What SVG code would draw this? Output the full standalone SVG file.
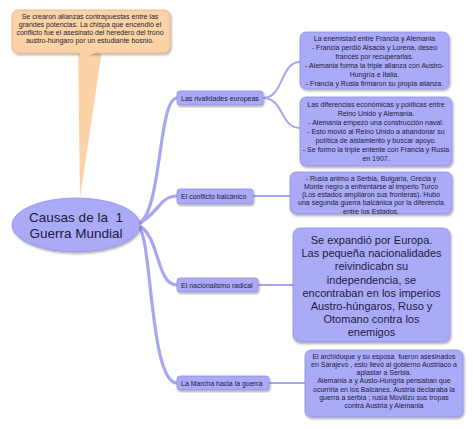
<svg xmlns="http://www.w3.org/2000/svg" width="474" height="429" viewBox="0 0 474 429">
<defs>
<filter id="sh" x="-10%" y="-10%" width="125%" height="130%">
<feDropShadow dx="1" dy="1.5" stdDeviation="1" flood-color="#000" flood-opacity="0.35"/>
</filter>
<style>
.node{fill:#AAAAF7;stroke:#9090E6;stroke-width:0.8;filter:url(#sh)}
.call{fill:#FCD3A6;stroke:#E6B27E;stroke-width:0.8;filter:url(#sh)}
.t{font-family:"Liberation Sans",Arial,sans-serif;fill:#1C1C3C;text-anchor:middle;white-space:pre}
.s{font-size:7px}
.b{font-size:7px;text-anchor:start}
.m{font-size:11px}
.c{font-size:13.5px}
.conn{fill:none;stroke:#A6A6F2;stroke-linecap:round}
.main{stroke-width:3.2}
.sub{stroke-width:2}
</style>
</defs>
<g id="connectors">
<path class="conn main" d="M138,224 C162,214 158,98 177,98"/>
<path class="conn main" d="M138,224 C158,214 160,196 177,196"/>
<path class="conn main" d="M139,226 C160,236 156,285 177,285"/>
<path class="conn main" d="M139,227 C152,240 150,383 177,383"/>
<path class="conn sub" d="M263,98 C284,98 280,62 300,62"/>
<path class="conn sub" d="M263,98 C284,98 280,128 300,128"/>
<path class="conn sub" d="M253,196 L290,196"/>
<path class="conn sub" d="M258,285 L293,285"/>
<path class="conn sub" d="M269,383 L305,383"/>
</g>
<g id="callout">
<polygon points="78,50 102,50 80,198" fill="#FCD3A6"/>
<rect class="call" x="12" y="10" width="158" height="43" rx="6"/>
<polygon points="79,50 101,50 80,60" fill="#FCD3A6"/>
<text class="t s" x="90" y="18.5">Se crearon alianzas contrapuestas entre las</text>
<text class="t s" x="90" y="26.8">grandes potencias. La chispa que encendió el</text>
<text class="t s" x="90" y="35.1">conflicto fue el asesinato del heredero del trono</text>
<text class="t s" x="90" y="43.4">austro-húngaro por un estudiante bosnio.</text>
</g>
<g id="root">
<ellipse class="node" cx="76" cy="225" rx="64" ry="27"/>
<text class="t c" x="76" y="221.5" xml:space="preserve">Causas de la  1</text>
<text class="t c" x="76" y="238">Guerra Mundial</text>
</g>
<g id="n-rivalidades">
<rect class="node" x="177" y="91" width="86" height="14" rx="3"/>
<text class="t b" x="181" y="100.5">Las rivalidades europeas</text>
</g>
<g id="n-balcanico">
<rect class="node" x="177" y="189" width="76" height="15" rx="3"/>
<text class="t b" x="181" y="199">El conflicto balcánico</text>
</g>
<g id="n-nacionalismo">
<rect class="node" x="177" y="278" width="81" height="14" rx="3"/>
<text class="t b" x="181" y="287.5">El nacionalismo radical</text>
</g>
<g id="n-marcha">
<rect class="node" x="177" y="376" width="92" height="14" rx="3"/>
<text class="t b" x="181" y="385.5">La Marcha hacia la guerra</text>
</g>
<g id="leaf-francia">
<rect class="node" x="300" y="32" width="149" height="57" rx="6"/>
<text class="t s" x="374.5" y="40.5">La enemistad entre Francia y Alemania</text>
<text class="t s" x="374.5" y="49.5">- Francia perdió Alsacia y Lorena, deseo</text>
<text class="t s" x="374.5" y="58.5">francés por recuperarlas.</text>
<text class="t s" x="374.5" y="67.5">- Alemania forma la triple alianza con Austro-</text>
<text class="t s" x="374.5" y="76.5">Hungría e Italia.</text>
<text class="t s" x="374.5" y="85.5">- Francia y Rusia firmaron su propia alianza.</text>
</g>
<g id="leaf-reino">
<rect class="node" x="300" y="97" width="152" height="69" rx="6"/>
<text class="t s" x="376" y="106.5">Las diferencias económicas y políticas entre</text>
<text class="t s" x="376" y="115.5">Reino Unido y Alemania.</text>
<text class="t s" x="376" y="124.5">- Alemania empezó una construcción naval.</text>
<text class="t s" x="376" y="133.5">- Esto movió al Reino Unido a abandonar su</text>
<text class="t s" x="376" y="142.5">política de aislamiento y buscar apoyo.</text>
<text class="t s" x="376" y="151.5">- Se formo la triple entente con Francia y Rusia</text>
<text class="t s" x="376" y="160.5">en 1907.</text>
</g>
<g id="leaf-balcanes">
<rect class="node" x="290" y="172" width="162" height="42" rx="6"/>
<text class="t s" x="371" y="180.5">- Rusia animo a Serbia, Bulgaria, Grecia y</text>
<text class="t s" x="371" y="188.8">Monte negro a enfrentarse al imperio Turco</text>
<text class="t s" x="371" y="197.1">(Los estados ampliaron sus fronteras). Hubo</text>
<text class="t s" x="371" y="205.4">una segunda guerra balcánica por la diferencia</text>
<text class="t s" x="371" y="213.7">entre los Estados.</text>
</g>
<g id="leaf-nacionalismo">
<rect class="node" x="293" y="228" width="157" height="114" rx="7"/>
<text class="t m" x="371.5" y="244">Se expandió por Europa.</text>
<text class="t m" x="371.5" y="257.2">Las pequeña nacionalidades</text>
<text class="t m" x="371.5" y="270.4">reivindicabn su</text>
<text class="t m" x="371.5" y="283.6">independencia, se</text>
<text class="t m" x="371.5" y="296.8">encontraban en los imperios</text>
<text class="t m" x="371.5" y="310">Austro-húngaros, Ruso y</text>
<text class="t m" x="371.5" y="323.2">Otomano contra los</text>
<text class="t m" x="371.5" y="336.4">enemigos</text>
</g>
<g id="leaf-marcha">
<rect class="node" x="305" y="350" width="158" height="67" rx="6"/>
<text class="t s" x="384" y="358.5" xml:space="preserve">El archiduque y su esposa  fueron asesinados</text>
<text class="t s" x="384" y="366.8">en Sarajevo , esto llevó al gobierno Austriaco a</text>
<text class="t s" x="384" y="375.1">aplastar a Serbia.</text>
<text class="t s" x="384" y="383.4">Alemania a y Austo-Hungria pensaban que</text>
<text class="t s" x="384" y="391.7">ocurriria en los Balcanes. Austria declaraba la</text>
<text class="t s" x="384" y="400">guerra a serbia ; rusia Movilizo sus tropas</text>
<text class="t s" x="384" y="408.3">contra Austria y Alemania</text>
</g>
</svg>
